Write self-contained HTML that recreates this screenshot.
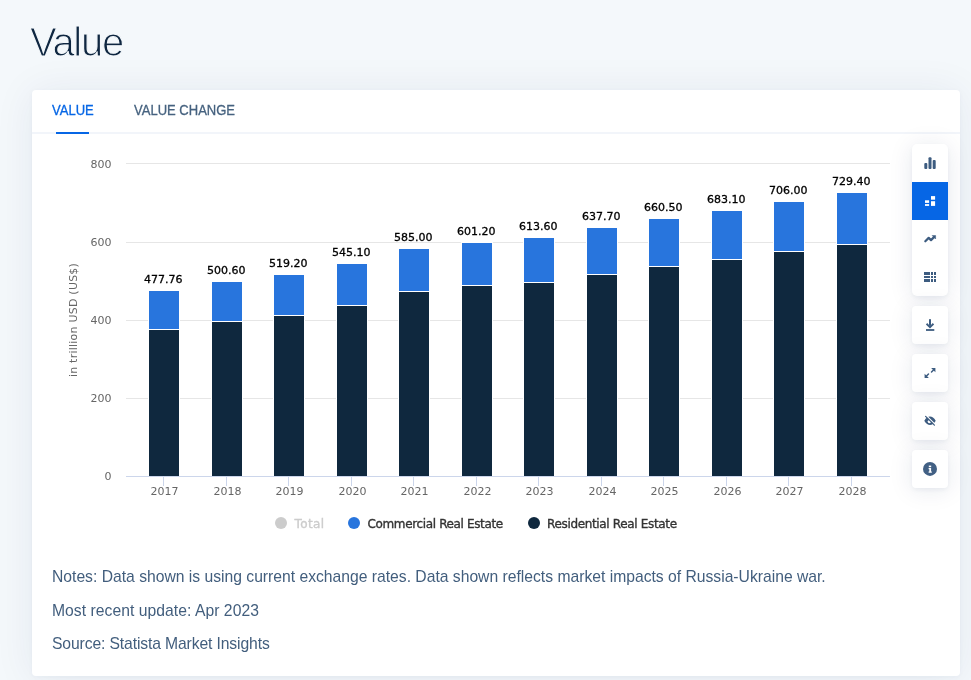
<!DOCTYPE html>
<html lang="en"><head><meta charset="utf-8"><title>Value</title>
<style>
html,body{margin:0;padding:0}
body{width:971px;height:680px;overflow:hidden;background:#f4f8fb;position:relative;font-family:"Liberation Sans",sans-serif;color:#0f2741}
h1{position:absolute;left:30px;top:19px;margin:0;font-weight:400;font-size:40px;line-height:46px;letter-spacing:-1.3px;color:#0f2741;-webkit-text-stroke:1.1px #f4f8fb}
.card{position:absolute;left:32px;top:90px;width:928px;height:586px;background:#fff;border-radius:4px;box-shadow:0 1px 5px rgba(20,40,90,.04),0 2px 40px rgba(20,40,90,.075)}
.tabs{position:absolute;left:0;top:0;width:928px;height:42px;border-bottom:2px solid #f2f5fa}
.tab{position:absolute;top:11px;font-size:14px;line-height:18px;color:#46627f;white-space:nowrap;-webkit-text-stroke:.3px currentColor}
.tab.on{color:#0666e5}
.tab span{display:inline-block;transform:scaleX(.93);transform-origin:0 0}
.ul{position:absolute;left:24px;top:42px;width:33px;height:2px;background:#0666e5}
.chart{position:absolute;left:0;top:0}
.chart rect{shape-rendering:crispEdges}
.chart text{font-family:"DejaVu Sans","Liberation Sans",sans-serif}
.xl,.yl,.yt{font-size:11px;fill:#666}
.yt{letter-spacing:.23px}
.dl{font-size:11px;fill:#000;stroke:#000;stroke-width:.3px}
.lg{font-size:12px;stroke-width:.35px}
.note{position:absolute;left:52px;font-size:15.7px;line-height:20px;color:#425e7d;white-space:nowrap;margin:0}
.btn{position:absolute;left:912px;width:36px;height:38px;background:#fff;border-radius:4px;box-shadow:0 2px 4px rgba(20,40,90,.05),0 2px 24px rgba(20,40,90,.10)}
.grp{position:absolute;left:912px;top:144px;width:36px;height:152px;background:#fff;border-radius:5px;box-shadow:0 2px 4px rgba(20,40,90,.05),0 2px 24px rgba(20,40,90,.10);overflow:hidden}
.grp .act{position:absolute;left:0;top:38px;width:36px;height:38px;background:#0666e5}
.ico{position:absolute;left:0;top:0}
</style></head><body>
<h1>Value</h1>
<div class="card">
 <div class="tabs">
  <div class="tab on" style="left:20px"><span>VALUE</span></div><div class="ul"></div>
  <div class="tab" style="left:102px"><span>VALUE CHANGE</span></div>
 </div>
</div>
<svg class="chart" width="971" height="680" viewBox="0 0 971 680">
<rect x="126" y="163" width="764" height="1" fill="#e6e6e6"/>
<rect x="126" y="242" width="764" height="1" fill="#e6e6e6"/>
<rect x="126" y="320" width="764" height="1" fill="#e6e6e6"/>
<rect x="126" y="398" width="764" height="1" fill="#e6e6e6"/>
<rect x="148" y="290" width="32" height="186" fill="#fff"/>
<rect x="149" y="291" width="30" height="38" fill="#2875dd"/>
<rect x="149" y="330" width="30" height="146" fill="#0f283e"/>
<rect x="211" y="281" width="32" height="195" fill="#fff"/>
<rect x="212" y="282" width="30" height="39" fill="#2875dd"/>
<rect x="212" y="322" width="30" height="154" fill="#0f283e"/>
<rect x="273" y="274" width="32" height="202" fill="#fff"/>
<rect x="274" y="275" width="30" height="40" fill="#2875dd"/>
<rect x="274" y="316" width="30" height="160" fill="#0f283e"/>
<rect x="336" y="263" width="32" height="213" fill="#fff"/>
<rect x="337" y="264" width="30" height="41" fill="#2875dd"/>
<rect x="337" y="306" width="30" height="170" fill="#0f283e"/>
<rect x="398" y="248" width="32" height="228" fill="#fff"/>
<rect x="399" y="249" width="30" height="42" fill="#2875dd"/>
<rect x="399" y="292" width="30" height="184" fill="#0f283e"/>
<rect x="461" y="242" width="32" height="234" fill="#fff"/>
<rect x="462" y="243" width="30" height="42" fill="#2875dd"/>
<rect x="462" y="286" width="30" height="190" fill="#0f283e"/>
<rect x="523" y="237" width="32" height="239" fill="#fff"/>
<rect x="524" y="238" width="30" height="44" fill="#2875dd"/>
<rect x="524" y="283" width="30" height="193" fill="#0f283e"/>
<rect x="586" y="227" width="32" height="249" fill="#fff"/>
<rect x="587" y="228" width="30" height="46" fill="#2875dd"/>
<rect x="587" y="275" width="30" height="201" fill="#0f283e"/>
<rect x="648" y="218" width="32" height="258" fill="#fff"/>
<rect x="649" y="219" width="30" height="47" fill="#2875dd"/>
<rect x="649" y="267" width="30" height="209" fill="#0f283e"/>
<rect x="711" y="210" width="32" height="266" fill="#fff"/>
<rect x="712" y="211" width="30" height="48" fill="#2875dd"/>
<rect x="712" y="260" width="30" height="216" fill="#0f283e"/>
<rect x="773" y="201" width="32" height="275" fill="#fff"/>
<rect x="774" y="202" width="30" height="49" fill="#2875dd"/>
<rect x="774" y="252" width="30" height="224" fill="#0f283e"/>
<rect x="836" y="192" width="32" height="284" fill="#fff"/>
<rect x="837" y="193" width="30" height="51" fill="#2875dd"/>
<rect x="837" y="245" width="30" height="231" fill="#0f283e"/>
<rect x="126" y="476" width="764" height="1" fill="#ccd6eb"/>
<rect x="163" y="477" width="1" height="9" fill="#ccd6eb"/>
<text class="xl" x="164.6" y="495" text-anchor="middle">2017</text>
<text class="dl" x="163.3" y="283" text-anchor="middle">477.76</text>
<rect x="226" y="477" width="1" height="9" fill="#ccd6eb"/>
<text class="xl" x="227.6" y="495" text-anchor="middle">2018</text>
<text class="dl" x="226.3" y="274" text-anchor="middle">500.60</text>
<rect x="288" y="477" width="1" height="9" fill="#ccd6eb"/>
<text class="xl" x="289.6" y="495" text-anchor="middle">2019</text>
<text class="dl" x="288.3" y="267" text-anchor="middle">519.20</text>
<rect x="351" y="477" width="1" height="9" fill="#ccd6eb"/>
<text class="xl" x="352.6" y="495" text-anchor="middle">2020</text>
<text class="dl" x="351.3" y="256" text-anchor="middle">545.10</text>
<rect x="413" y="477" width="1" height="9" fill="#ccd6eb"/>
<text class="xl" x="414.6" y="495" text-anchor="middle">2021</text>
<text class="dl" x="413.3" y="241" text-anchor="middle">585.00</text>
<rect x="476" y="477" width="1" height="9" fill="#ccd6eb"/>
<text class="xl" x="477.6" y="495" text-anchor="middle">2022</text>
<text class="dl" x="476.3" y="235" text-anchor="middle">601.20</text>
<rect x="538" y="477" width="1" height="9" fill="#ccd6eb"/>
<text class="xl" x="539.6" y="495" text-anchor="middle">2023</text>
<text class="dl" x="538.3" y="230" text-anchor="middle">613.60</text>
<rect x="601" y="477" width="1" height="9" fill="#ccd6eb"/>
<text class="xl" x="602.6" y="495" text-anchor="middle">2024</text>
<text class="dl" x="601.3" y="220" text-anchor="middle">637.70</text>
<rect x="663" y="477" width="1" height="9" fill="#ccd6eb"/>
<text class="xl" x="664.6" y="495" text-anchor="middle">2025</text>
<text class="dl" x="663.3" y="211" text-anchor="middle">660.50</text>
<rect x="726" y="477" width="1" height="9" fill="#ccd6eb"/>
<text class="xl" x="727.6" y="495" text-anchor="middle">2026</text>
<text class="dl" x="726.3" y="203" text-anchor="middle">683.10</text>
<rect x="788" y="477" width="1" height="9" fill="#ccd6eb"/>
<text class="xl" x="789.6" y="495" text-anchor="middle">2027</text>
<text class="dl" x="788.3" y="194" text-anchor="middle">706.00</text>
<rect x="851" y="477" width="1" height="9" fill="#ccd6eb"/>
<text class="xl" x="852.6" y="495" text-anchor="middle">2028</text>
<text class="dl" x="851.3" y="185" text-anchor="middle">729.40</text>
<text class="yl" x="111.6" y="168" text-anchor="end">800</text>
<text class="yl" x="111.6" y="246" text-anchor="end">600</text>
<text class="yl" x="111.6" y="324" text-anchor="end">400</text>
<text class="yl" x="111.6" y="402" text-anchor="end">200</text>
<text class="yl" x="111.6" y="480" text-anchor="end">0</text>
<text class="yt" transform="translate(77,320) rotate(-90)" text-anchor="middle">in trillion USD (US$)</text>
<circle cx="281" cy="523" r="6" fill="#cccccc"/>
<text class="lg" x="294.5" y="528" fill="#cccccc" stroke="#cccccc" letter-spacing=".4">Total</text>
<circle cx="354" cy="523" r="6" fill="#2875dd"/>
<text class="lg" x="367.5" y="528" fill="#333333" stroke="#333333" letter-spacing="-.36">Commercial Real Estate</text>
<circle cx="534" cy="523" r="6" fill="#0f283e"/>
<text class="lg" x="547" y="528" fill="#333333" stroke="#333333" letter-spacing="-.34">Residential Real Estate</text>
</svg>
<p class="note" style="top:567px;letter-spacing:-.005px">Notes: Data shown is using current exchange rates. Data shown reflects market impacts of Russia-Ukraine war.</p>
<p class="note" style="top:601px;letter-spacing:.04px">Most recent update: Apr 2023</p>
<p class="note" style="top:634px;letter-spacing:-.12px">Source: Statista Market Insights</p>
<div class="grp"><div class="act"></div></div>
<div class="btn" style="top:306px"></div>
<div class="btn" style="top:354px"></div>
<div class="btn" style="top:402px"></div>
<div class="btn" style="top:450px"></div>
<svg class="ico" width="971" height="680" viewBox="0 0 971 680">
<g fill="#3d5c80">
<rect x="924.3" y="163" width="3" height="6" rx="1"/>
<rect x="928.5" y="157.2" width="3" height="11.8" rx="1"/>
<rect x="932.7" y="160" width="3" height="9" rx="1"/>
</g>
<g fill="#fff">
<rect x="925" y="200.3" width="4.1" height="2.6"/>
<rect x="925" y="204.1" width="4.1" height="1.8"/>
<rect x="931" y="196.1" width="4.1" height="3.6"/>
<rect x="931" y="201.2" width="4.1" height="4.7"/>
</g>
<g fill="#3d5c80" stroke="none">
<path d="M925.3 241.3 L928.7 237.9 L931 240.1 L934 237.1" fill="none" stroke="#3d5c80" stroke-width="2.2" stroke-linecap="round" stroke-linejoin="round"/>
<path d="M932.1 235.5 L935.6 235.5 L935.6 239 Z" stroke="#3d5c80" stroke-width=".5" stroke-linejoin="round"/>
<rect x="924" y="272" width="6" height="3"/><rect x="931" y="272" width="2" height="3"/><rect x="934" y="272" width="2" height="3"/><rect x="924" y="276" width="6" height="2"/><rect x="931" y="276" width="2" height="2"/><rect x="934" y="276" width="2" height="2"/><rect x="924" y="279" width="6" height="3"/><rect x="931" y="279" width="2" height="3"/><rect x="934" y="279" width="2" height="3"/>
<rect x="929" y="319.2" width="2" height="6.5"/>
<path d="M925.9 324.4 L927.2 323.1 L929.3 325.2 L930.7 325.2 L932.8 323.1 L934.1 324.4 L930 328.4 Z"/>
<rect x="926" y="329.1" width="8.3" height="1.8"/>
<path d="M931.1 368 L935.4 368 L935.4 372.3 Z M924.6 373.7 L924.6 378 L928.9 378 Z"/>
<path d="M934 369.4 L931.5 371.9 M926 376.6 L928.5 374.1" fill="none" stroke="#3d5c80" stroke-width="1.45" stroke-linecap="round"/>
<path d="M924.3 420.8 C926 417.8 928 416.6 930 416.6 C932 416.6 934 417.8 935.7 420.8 C934 423.8 932 425 930 425 C928 425 926 423.8 924.3 420.8 Z"/>
<circle cx="929.4" cy="421.6" r="1.7" fill="#fff"/>
<path d="M926.6 416 L935.4 424.8" fill="none" stroke="#fff" stroke-width="1.3"/>
<path d="M925.6 416.4 L934.4 425.2" fill="none" stroke="#3d5c80" stroke-width="1.2" stroke-linecap="round"/>
<circle cx="930" cy="468.9" r="7" fill="#426084"/>
<rect x="928.8" y="465.6" width="2.4" height="1.6" fill="#fff"/>
<path d="M928.6 468.1 H931.1 V471.6 H931.8 V472.8 H928.6 V471.6 H929.3 V469.3 H928.6 Z" fill="#fff"/>
</g>
</svg>
</body></html>
